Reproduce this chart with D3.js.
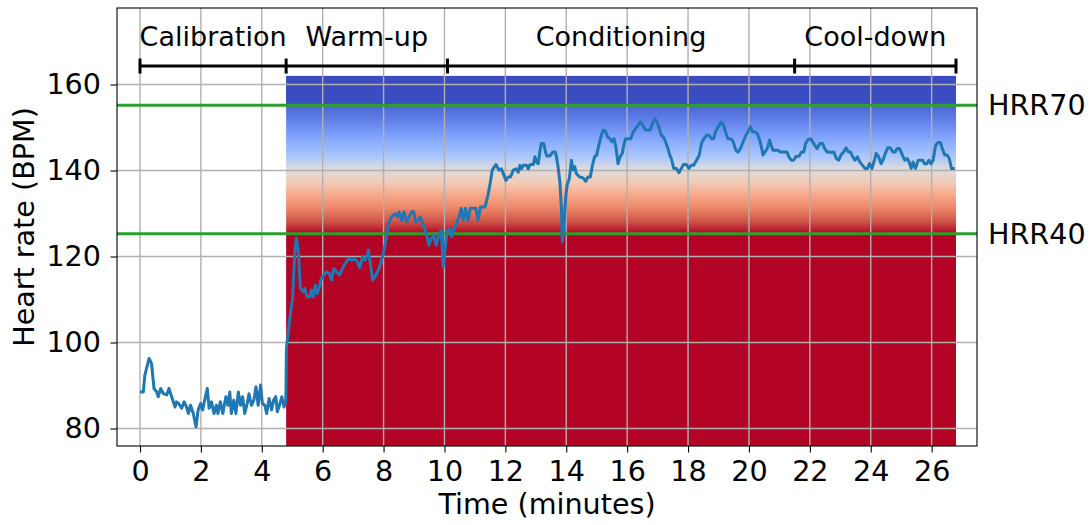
<!DOCTYPE html>
<html>
<head>
<meta charset="utf-8">
<script src="https://cdn.jsdelivr.net/npm/d3@7"></script>
<style>
  html, body { margin: 0; background: #fff; }
  svg text { font-family: "DejaVu Sans", sans-serif; fill: #000; }
</style>
</head>
<body>
<div id="chart"></div>
<script>
/* ── heart rate over a session, with training zones ───────── */

// time in minutes
const minutes = [
  0.00, 0.11, 0.16, 0.30, 0.38, 0.46, 0.55, 0.60, 0.68, 0.77, 0.88, 0.95, 1.04, 1.15, 1.20, 1.27,
  1.37, 1.45, 1.53, 1.59, 1.66, 1.75, 1.84, 1.91, 1.99, 2.06, 2.10, 2.21, 2.27, 2.35, 2.43, 2.51,
  2.56, 2.64, 2.72, 2.82, 2.89, 2.95, 3.00, 3.08, 3.15, 3.23, 3.30, 3.37, 3.44, 3.52, 3.58, 3.66,
  3.74, 3.81, 3.88, 3.96, 4.02, 4.10, 4.16, 4.24, 4.32, 4.39, 4.46, 4.51, 4.58, 4.66, 4.73, 4.79,
  4.81, 4.92, 5.01, 5.09, 5.14, 5.20, 5.27, 5.36, 5.41, 5.49, 5.58, 5.63, 5.69, 5.76, 5.82, 5.88,
  5.96, 6.03, 6.13, 6.22, 6.29, 6.37, 6.46, 6.55, 6.62, 6.70, 6.79, 6.84, 6.95, 7.06, 7.13, 7.22,
  7.31, 7.39, 7.47, 7.50, 7.55, 7.64, 7.72, 7.83, 7.94, 8.04, 8.10, 8.18, 8.26, 8.37, 8.45, 8.51,
  8.59, 8.67, 8.75, 8.84, 8.92, 8.99, 9.05, 9.13, 9.20, 9.27, 9.36, 9.43, 9.49, 9.57, 9.65, 9.73,
  9.81, 9.89, 9.96, 10.00, 10.08, 10.17, 10.23, 10.30, 10.39, 10.48, 10.55, 10.61, 10.69, 10.77, 10.85, 10.94,
  11.03, 11.10, 11.18, 11.33, 11.43, 11.50, 11.57, 11.69, 11.79, 11.87, 11.93, 12.02, 12.09, 12.17, 12.26, 12.35,
  12.42, 12.48, 12.53, 12.59, 12.70, 12.75, 12.81, 12.92, 12.97, 13.02, 13.08, 13.13, 13.18, 13.26, 13.32, 13.36,
  13.46, 13.56, 13.64, 13.68, 13.73, 13.79, 13.84, 13.87, 13.92, 13.99, 14.03, 14.10, 14.17, 14.22, 14.28, 14.33,
  14.44, 14.55, 14.64, 14.71, 14.79, 14.86, 14.93, 15.00, 15.07, 15.15, 15.22, 15.29, 15.36, 15.44, 15.50, 15.57,
  15.63, 15.70, 15.77, 15.84, 15.89, 15.95, 16.03, 16.12, 16.20, 16.28, 16.36, 16.43, 16.52, 16.60, 16.67, 16.75,
  16.83, 16.90, 16.98, 17.04, 17.12, 17.19, 17.26, 17.34, 17.40, 17.45, 17.53, 17.62, 17.70, 17.78, 17.85, 17.94,
  18.03, 18.10, 18.18, 18.28, 18.37, 18.44, 18.52, 18.61, 18.69, 18.77, 18.84, 18.91, 18.98, 19.09, 19.17, 19.23,
  19.31, 19.38, 19.45, 19.50, 19.57, 19.64, 19.72, 19.81, 19.90, 19.97, 20.05, 20.12, 20.20, 20.27, 20.34, 20.41,
  20.46, 20.52, 20.60, 20.68, 20.73, 20.79, 20.88, 20.95, 21.03, 21.14, 21.25, 21.31, 21.39, 21.47, 21.55, 21.64,
  21.73, 21.80, 21.86, 21.94, 22.02, 22.09, 22.16, 22.24, 22.33, 22.42, 22.49, 22.57, 22.64, 22.71, 22.79, 22.87,
  22.95, 23.02, 23.11, 23.19, 23.27, 23.34, 23.41, 23.48, 23.56, 23.64, 23.73, 23.81, 23.89, 23.96, 24.04, 24.12,
  24.18, 24.26, 24.34, 24.40, 24.48, 24.56, 24.64, 24.73, 24.80, 24.87, 24.95, 25.04, 25.12, 25.20, 25.26, 25.33,
  25.39, 25.47, 25.56, 25.63, 25.71, 25.76, 25.84, 25.91, 25.98, 26.05, 26.13, 26.21, 26.29, 26.35, 26.43, 26.51,
  26.58, 26.65, 26.76
];

// heart rate, BPM
const bpm = [
  88.5, 88.5, 92.4, 96.3, 95.1, 89.3, 88.5, 87.4, 89.3, 88.1, 87.8, 89.3, 87.4, 85.0, 86.2, 85.8,
  84.7, 86.2, 85.0, 83.5, 85.4, 83.5, 80.4, 84.3, 85.8, 84.3, 85.8, 89.3, 84.7, 86.2, 83.5, 85.4,
  83.5, 86.2, 83.5, 87.4, 85.4, 88.5, 83.5, 86.6, 83.5, 88.5, 85.4, 87.4, 83.5, 85.8, 88.1, 85.4,
  86.6, 89.7, 85.4, 90.1, 85.8, 85.4, 83.5, 87.0, 84.3, 86.6, 87.4, 83.9, 85.4, 87.4, 85.0, 86.6,
  98.6, 105.6, 110.2, 121.9, 124.3, 121.1, 112.6, 111.8, 112.6, 110.6, 110.6, 112.2, 110.6, 113.3, 111.4, 112.6,
  114.9, 115.7, 116.4, 116.1, 114.5, 117.2, 116.4, 115.7, 116.8, 118.0, 118.8, 119.4, 119.2, 119.4, 118.8, 117.4,
  119.9, 119.2, 120.3, 121.5, 119.2, 114.5, 115.3, 116.8, 119.2, 122.3, 125.3, 128.1, 129.2, 130.0, 129.2, 130.4,
  128.4, 130.4, 128.1, 129.2, 130.4, 130.4, 128.1, 128.4, 129.2, 128.1, 126.1, 124.6, 122.6, 124.2, 124.9, 122.6,
  124.9, 126.1, 117.6, 120.3, 125.7, 126.5, 124.6, 126.1, 127.7, 129.2, 131.2, 128.4, 131.2, 128.4, 131.2, 131.2,
  131.2, 128.4, 131.5, 131.5, 134.3, 137.0, 140.1, 141.4, 140.1, 140.4, 139.3, 137.7, 138.5, 138.5, 140.1, 140.4,
  139.6, 141.2, 140.4, 141.2, 141.2, 140.4, 141.4, 141.4, 143.2, 142.0, 141.6, 144.3, 146.3, 146.3, 144.3, 143.4,
  143.4, 144.3, 144.3, 143.2, 140.9, 137.4, 131.2, 123.4, 127.3, 134.3, 136.6, 138.1, 142.4, 140.1, 140.9, 139.3,
  138.5, 138.3, 137.5, 138.5, 138.5, 141.2, 143.2, 143.6, 145.9, 148.2, 149.4, 149.1, 147.8, 147.4, 146.7, 147.4,
  145.5, 141.6, 143.2, 144.0, 145.9, 147.4, 147.4, 147.4, 149.0, 149.8, 150.5, 151.3, 150.5, 149.4, 149.4, 149.4,
  150.9, 152.1, 151.3, 150.1, 148.2, 147.8, 146.7, 145.1, 143.6, 142.8, 140.5, 140.5, 139.5, 140.5, 141.4, 141.4,
  140.5, 141.2, 141.2, 142.4, 143.6, 146.3, 147.4, 148.2, 148.2, 147.4, 147.4, 149.2, 150.0, 151.3, 150.5, 149.0,
  147.4, 147.4, 147.1, 146.3, 144.7, 144.3, 145.1, 146.7, 148.2, 149.0, 150.2, 149.0, 149.0, 148.6, 147.4, 145.5,
  143.6, 144.3, 145.1, 147.1, 145.9, 144.7, 144.7, 144.7, 144.3, 144.3, 144.3, 143.2, 142.4, 142.4, 143.3, 143.3,
  144.3, 144.3, 146.3, 147.2, 147.4, 146.7, 145.9, 145.1, 146.3, 146.3, 145.1, 144.3, 144.3, 144.2, 144.3, 142.8,
  142.4, 143.6, 144.3, 145.3, 144.3, 144.3, 143.2, 142.4, 143.2, 142.0, 141.2, 140.5, 140.5, 141.6, 140.5, 142.4,
  144.0, 143.2, 141.6, 142.4, 144.0, 145.3, 145.3, 144.3, 144.3, 145.1, 145.1, 143.6, 142.4, 142.8, 142.0, 140.5,
  142.0, 140.5, 142.4, 142.4, 142.4, 141.6, 141.6, 142.4, 141.6, 142.4, 145.9, 146.5, 146.5, 145.1, 143.6, 143.6,
  142.8, 140.5, 140.5
];

// session phases
const phaseNames  = ['Calibration', 'Warm-up', 'Conditioning', 'Cool-down'];
const phaseBounds = [0, 4.8, 10.1, 21.5, 26.8];
const phaseLevel  = 164.3;   // BPM level the phase bar sits at

// heart-rate reserve zones
const zoneLabels = ['HRR70', 'HRR40'];
const zoneValues = [155.2, 125.3];
const zoneBand   = { start: 4.8, end: 26.8, top: 162 };

const xTicks = [0, 2, 4, 6, 8, 10, 12, 14, 16, 18, 20, 22, 24, 26];
const yTicks = [80, 100, 120, 140, 160];

// matplotlib coolwarm, sampled (first stop a touch lighter: band is clipped above HRR70)
const coolwarm = ['#4a64d4', '#5d7ce6', '#7497f6', '#8fb1fe', '#abc7fd', '#dddcdc',
                  '#f2cbb7', '#f7a889', '#ec8768', '#d0584a', '#b40426'];
const bandTopColor = '#3b4cc0';

/* ── layout ───────────────────────────────────────────── */
const W = 1092, H = 525;
const L = 117, R = 977, T = 8, B = 446;
const FS = 28.6;

const x = d3.scaleLinear().domain([-0.755, 27.49]).range([L, R]);
const y = d3.scaleLinear().domain([75.93, 177.8]).range([B, T]);

const svg = d3.select('#chart').append('svg')
  .attr('width', W).attr('height', H);

const defs = svg.append('defs');
defs.append('clipPath').attr('id', 'plot-clip')
  .append('rect').attr('x', L).attr('y', T).attr('width', R - L).attr('height', B - T);

// zone gradient runs from HRR70 (blue) down to HRR40 (red)
const grad = defs.append('linearGradient')
  .attr('id', 'zone-grad')
  .attr('gradientUnits', 'userSpaceOnUse')
  .attr('x1', 0).attr('x2', 0)
  .attr('y1', y(zoneValues[0])).attr('y2', y(zoneValues[1]));
grad.selectAll('stop')
  .data(coolwarm)
  .join('stop')
  .attr('offset', (d, i) => i / (coolwarm.length - 1))
  .attr('stop-color', d => d);

const plot = svg.append('g').attr('clip-path', 'url(#plot-clip)');

// Zone band
plot.append('rect')
  .attr('x', x(zoneBand.start))
  .attr('y', y(zoneBand.top))
  .attr('width', x(zoneBand.end) - x(zoneBand.start))
  .attr('height', B - y(zoneBand.top))
  .attr('fill', 'url(#zone-grad)');
plot.append('rect')
  .attr('x', x(zoneBand.start))
  .attr('y', y(zoneBand.top))
  .attr('width', x(zoneBand.end) - x(zoneBand.start))
  .attr('height', y(zoneValues[0]) - y(zoneBand.top))
  .attr('fill', bandTopColor);

// Grid
const grid = plot.append('g').attr('stroke', '#b0b0b0').attr('stroke-width', 1.4);
grid.selectAll('.gx').data(xTicks).join('line')
  .attr('x1', d => x(d)).attr('x2', d => x(d))
  .attr('y1', T).attr('y2', B);
grid.selectAll('.gy').data(yTicks).join('line')
  .attr('y1', d => y(d)).attr('y2', d => y(d))
  .attr('x1', L).attr('x2', R);

// Phase bar
const bar = plot.append('g').attr('stroke', '#000').attr('stroke-width', 3);
bar.append('line')
  .attr('x1', x(phaseBounds[0])).attr('x2', x(phaseBounds[phaseBounds.length - 1]))
  .attr('y1', y(phaseLevel)).attr('y2', y(phaseLevel));
bar.selectAll('.cap').data(phaseBounds).join('line')
  .attr('x1', d => x(d)).attr('x2', d => x(d))
  .attr('y1', y(phaseLevel) - 7.5).attr('y2', y(phaseLevel) + 7.5);

svg.append('g').selectAll('text')
  .data(phaseNames)
  .join('text')
  .attr('x', (d, i) => (x(phaseBounds[i]) + x(phaseBounds[i + 1])) / 2)
  .attr('y', y(phaseLevel) - 20.5)
  .attr('text-anchor', 'middle')
  .attr('font-size', 27)
  .text(d => d);

// HRR lines
plot.selectAll('.hrr').data(zoneValues).join('line')
  .attr('x1', L).attr('x2', R)
  .attr('y1', d => y(d)).attr('y2', d => y(d))
  .attr('stroke', '#2ca02c').attr('stroke-width', 3);

svg.append('g').selectAll('text')
  .data(zoneValues)
  .join('text')
  .attr('x', R + 11)
  .attr('y', d => y(d))
  .attr('dy', '0.36em')
  .attr('font-size', FS)
  .text((d, i) => zoneLabels[i]);

// Heart-rate trace
const line = d3.line()
  .x(i => x(minutes[i]))
  .y(i => y(bpm[i]));

plot.append('path')
  .datum(d3.range(minutes.length))
  .attr('d', line)
  .attr('fill', 'none')
  .attr('stroke', '#1f77b4')
  .attr('stroke-width', 3)
  .attr('stroke-linejoin', 'round');

// Axes
const xAxis = svg.append('g')
  .attr('transform', `translate(0,${B})`)
  .call(d3.axisBottom(x).tickValues(xTicks).tickSize(6.5).tickPadding(8.5));
const yAxis = svg.append('g')
  .attr('transform', `translate(${L},0)`)
  .call(d3.axisLeft(y).tickValues(yTicks).tickSize(6.5).tickPadding(9.5));

[xAxis, yAxis].forEach(a => {
  a.select('.domain').remove();
  a.selectAll('.tick line').attr('stroke', '#000').attr('stroke-width', 1.1);
  a.selectAll('.tick text').attr('font-size', FS).attr('font-family', '"DejaVu Sans", sans-serif').attr('fill', '#000');
});

// Frame
svg.append('rect')
  .attr('x', L).attr('y', T).attr('width', R - L).attr('height', B - T)
  .attr('fill', 'none').attr('stroke', '#000').attr('stroke-width', 1.1);

// Axis labels
svg.append('text')
  .attr('x', (L + R) / 2).attr('y', 514)
  .attr('text-anchor', 'middle')
  .attr('font-size', FS)
  .text('Time (minutes)');

svg.append('text')
  .attr('transform', `translate(34,${(T + B) / 2}) rotate(-90)`)
  .attr('text-anchor', 'middle')
  .attr('font-size', FS)
  .text('Heart rate (BPM)');
</script>
</body>
</html>
